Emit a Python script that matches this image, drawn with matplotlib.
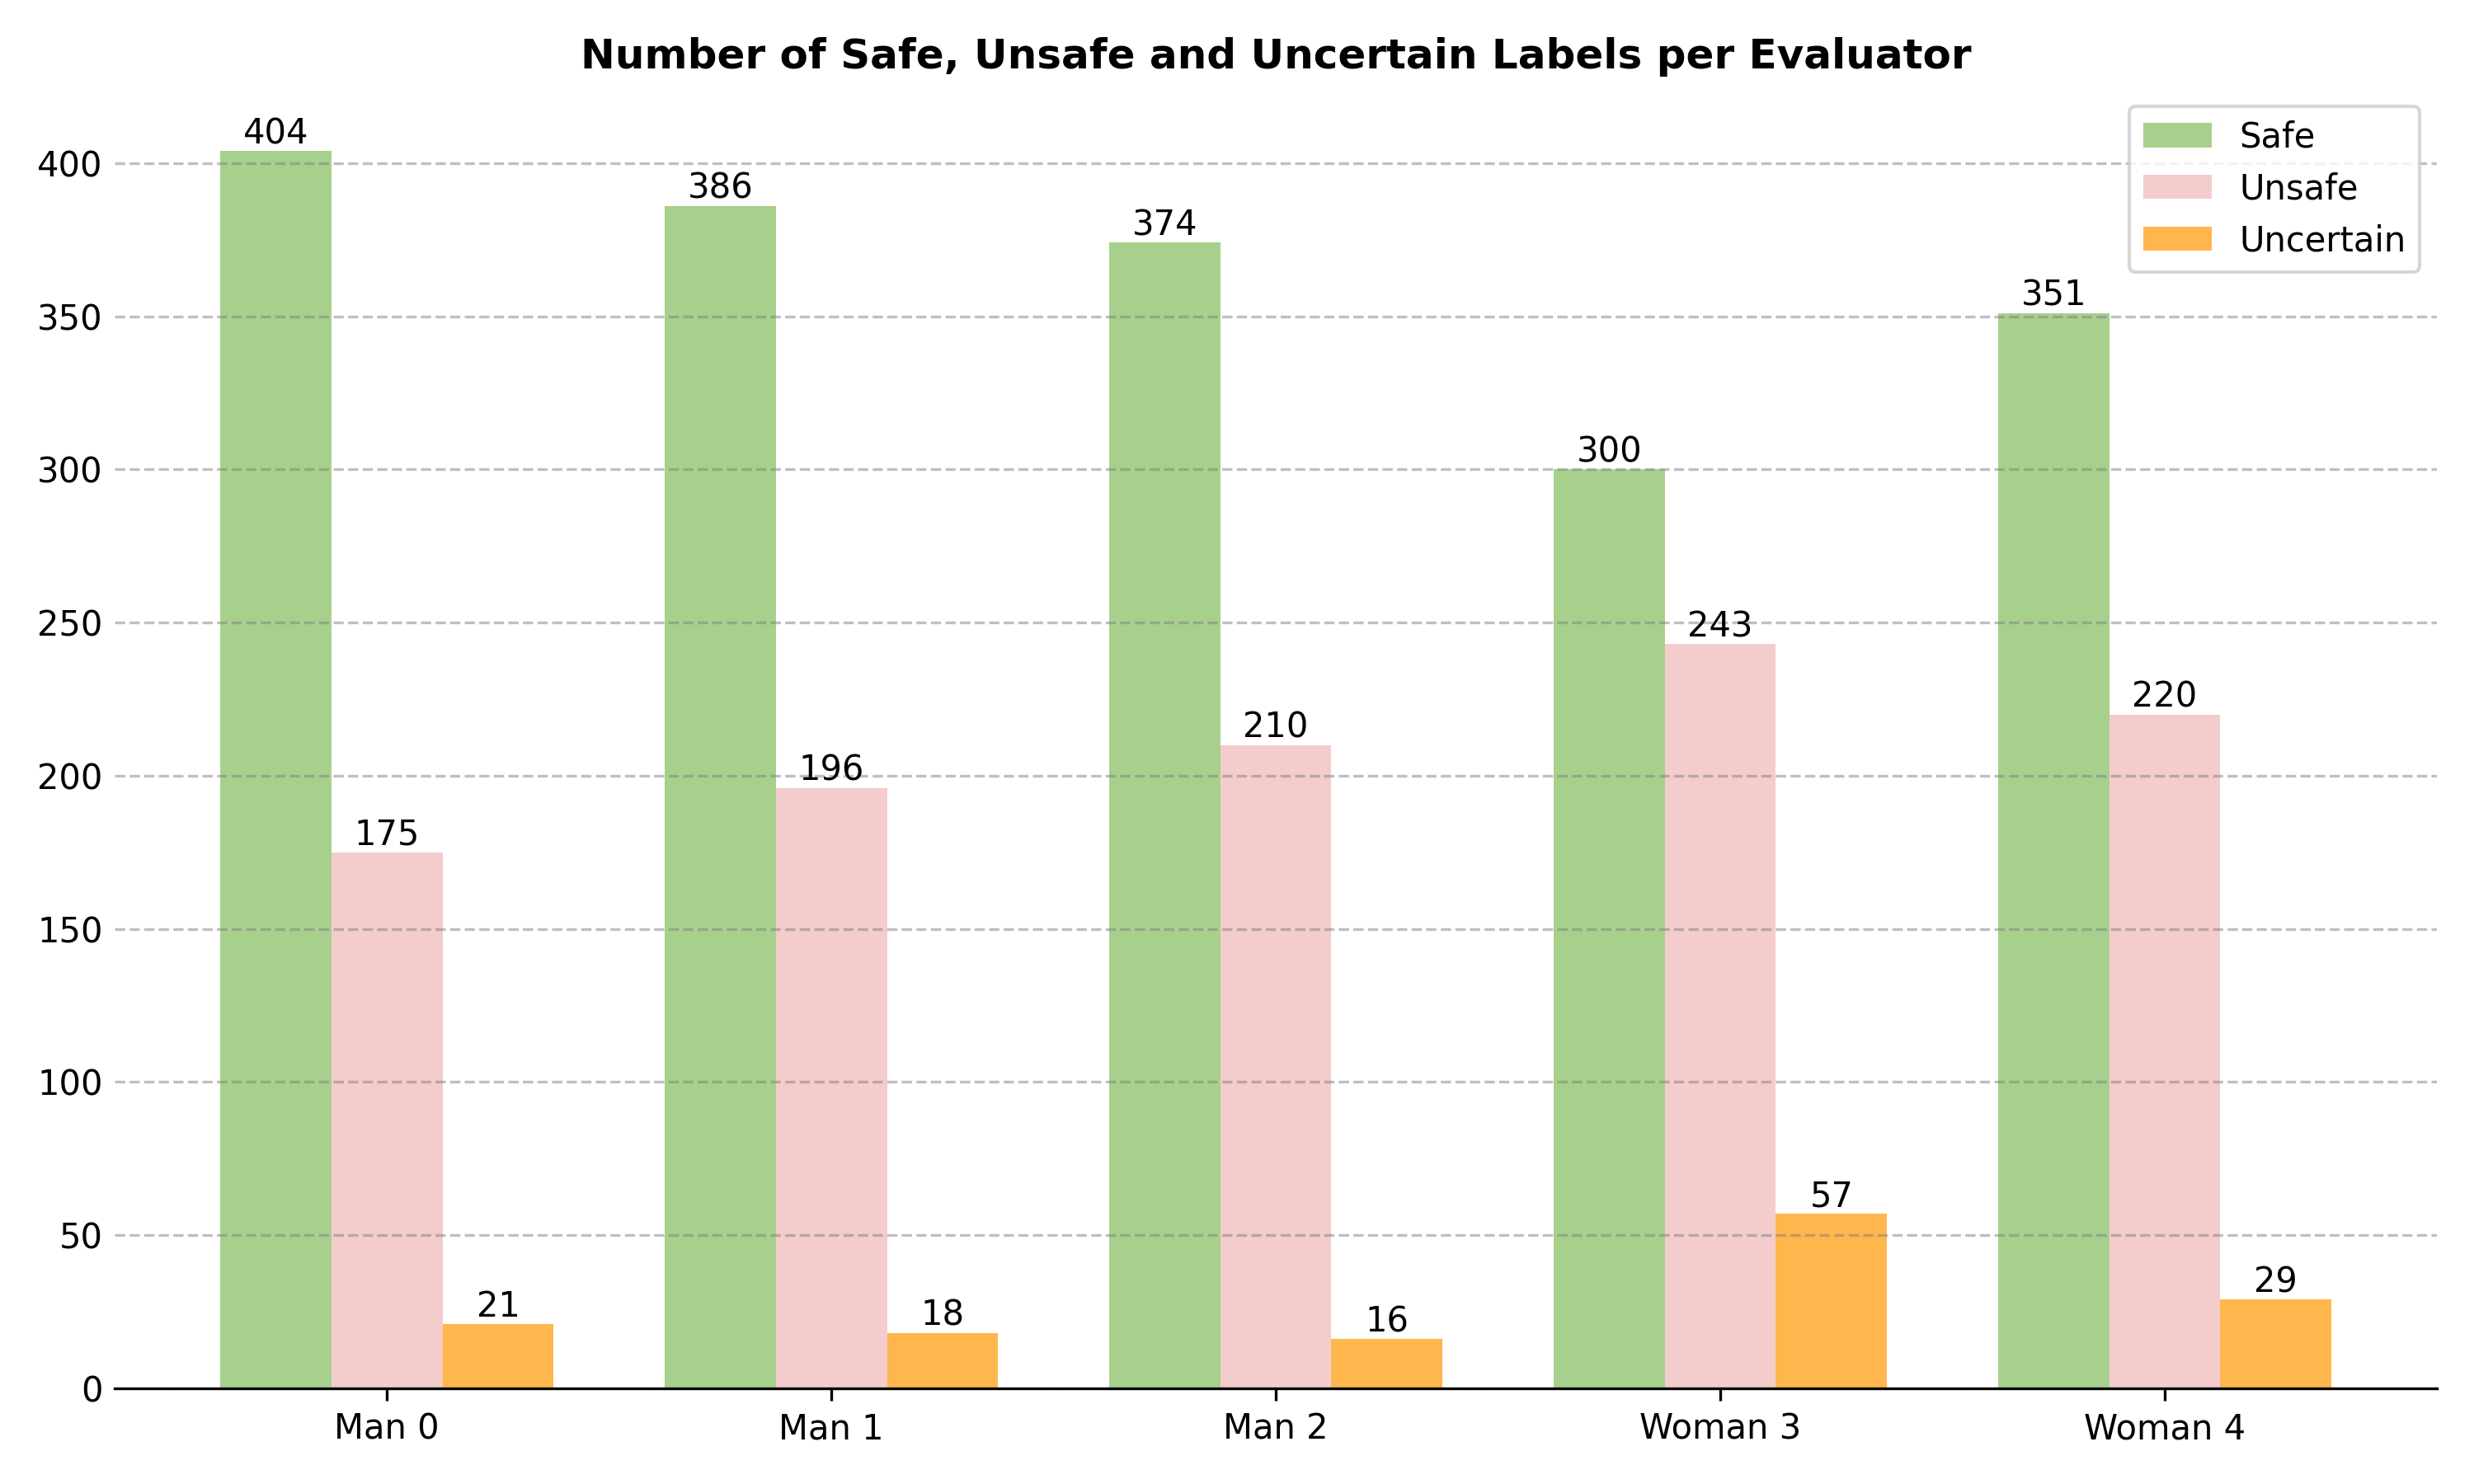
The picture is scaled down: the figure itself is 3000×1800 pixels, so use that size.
import matplotlib
matplotlib.use("Agg")
import matplotlib.pyplot as plt
import numpy as np

# data
evaluators = ["Man 0", "Man 1", "Man 2", "Woman 3", "Woman 4"]
safe = [404, 386, 374, 300, 351]
unsafe = [175, 196, 210, 243, 220]
uncertain = [21, 18, 16, 57, 29]

x = np.arange(len(evaluators))
width = 0.25

fig, ax = plt.subplots(figsize=(10, 6), dpi=300)

b1 = ax.bar(x - width, safe, width, label="Safe", color="#a8d08d")
b2 = ax.bar(x, unsafe, width, label="Unsafe", color="#f4cccc")
b3 = ax.bar(x + width, uncertain, width, label="Uncertain", color="#ffb74d")

for bars in (b1, b2, b3):
    ax.bar_label(bars, padding=0, fontsize=10)

ax.set_title("Number of Safe, Unsafe and Uncertain Labels per Evaluator",
             fontsize=12, fontweight="bold")
ax.set_xticks(x)
ax.set_xticklabels(evaluators)
ax.yaxis.grid(True, linestyle="--", color="gray", alpha=0.5)
ax.tick_params(axis="y", length=0)
ax.spines["top"].set_visible(False)
ax.spines["right"].set_visible(False)
ax.spines["left"].set_visible(False)
ax.legend(loc="upper right")

plt.tight_layout()
plt.savefig("out.png")
